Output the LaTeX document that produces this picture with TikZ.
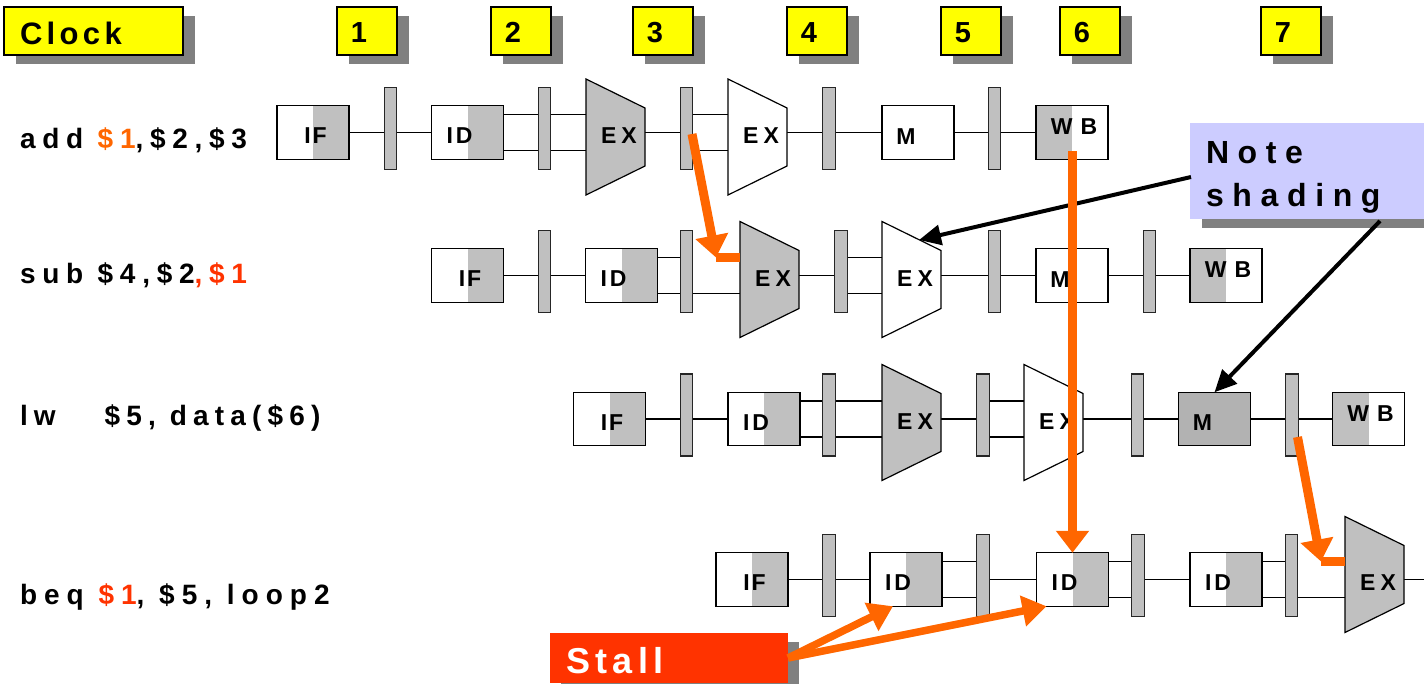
\documentclass[tikz,border=0pt]{standalone}
\usepackage{fontspec}
\setmainfont{Liberation Sans}
\usetikzlibrary{arrows.meta,calc,shadows}

\definecolor{pipegray}{HTML}{C0C0C0}
\definecolor{memgray}{HTML}{B2B2B2}
\definecolor{shadowgray}{HTML}{808080}
\definecolor{clockyellow}{HTML}{FFFF00}
\definecolor{fwdorange}{HTML}{FF6600}
\definecolor{stallred}{HTML}{FF3300}
\definecolor{notelilac}{HTML}{CCCCFF}

% tracked (letter-spaced) text
\newcommand\trk[2]{{\addfontfeature{LetterSpace=#1}#2}}

% ALU-style stage: name, left x, shape centre y, fill colour, row centre y
\newcommand\exunit[5]{%
  \draw[alu, fill=#4] (#2,#3-58) -- (#2+59,#3-29) -- (#2+59,#3+29) -- (#2,#3+58) -- cycle;
  \coordinate (#1-W) at (#2,#3);
  \coordinate (#1-E) at (#2+59,#3);
  \node[stagelbl] (#1) at (#2+33,#5+2.5) {E\hspace{5pt}X};
}

\pgfdeclarelayer{wires}
\pgfsetlayers{wires,main}

\begin{document}
\begin{tikzpicture}[x=1pt,y=-1pt,
  every node/.style={inner sep=0pt, outer sep=0pt},
  hshadow/.style={drop shadow={shadow xshift=12pt, shadow yshift=-9pt, fill=shadowgray, opacity=1}},
  numbox/.style={draw=black, line width=1.3pt, fill=clockyellow, minimum width=60pt, minimum height=48pt, hshadow},
  numlbl/.style={font=\bfseries\fontsize{29}{29}\selectfont, text height=20.8pt, text depth=0pt},
  stage/.style={draw=black, line width=1.2pt, fill=white, minimum width=72pt, minimum height=53.5pt},
  shadeR/.style={path picture={\fill[pipegray] (path picture bounding box.north) rectangle (path picture bounding box.south east);}},
  shadeL/.style={path picture={\fill[pipegray] (path picture bounding box.north west) rectangle (path picture bounding box.south);}},
  stagelbl/.style={font=\bfseries\fontsize{23}{23}\selectfont, text height=16.5pt, text depth=0pt},
  lblIF/.style={label={[stagelbl, xshift=2.5pt, yshift=-3pt]center:I\hspace{2pt}F}},
  lblID/.style={label={[stagelbl, xshift=-8pt, yshift=-3pt]center:I\hspace{3pt}D}},
  lblM/.style={label={[stagelbl, xshift=-12pt, yshift=-3.5pt]center:M}},
  lblWB/.style={label={[stagelbl, xshift=2pt, yshift=6pt]center:W\hspace{8pt}B}},
  bar/.style={draw=black!85, line width=1.2pt, fill=pipegray, minimum width=12.5pt, minimum height=82pt},
  alu/.style={draw=black, line width=1.2pt},
  wire/.style={draw=black, line width=1.2pt},
  instr/.style={font=\bfseries\fontsize{28}{28}\selectfont, anchor=base west},
  fwd/.style={draw=fwdorange, line width=9pt, -{Triangle[length=22pt,width=32pt]}},
  elbow/.style={draw=fwdorange, line width=9pt},
  stallarrow/.style={draw=fwdorange, line width=7.5pt, -{Triangle[length=24pt,width=30pt]}},
  blk/.style={draw=black, line width=4pt, -{Triangle[length=22pt,width=20pt]}}
]
\useasboundingbox (0,0) rectangle (1424,683);

% ---------- clock header ----------
\node[numbox, minimum width=179pt] (clk) at (93.5,31) {};
\node[font=\bfseries\fontsize{31}{31}\selectfont, anchor=base west] (clk-t) at (20,44) {\trk{14}{Clock}};
\foreach \n/\x in {1/337,2/491,3/633,4/787,5/941,6/1060,7/1261}
  \node[numbox, label={[numlbl, xshift=-8pt, yshift=-1.5pt]center:\n}] (cyc\n) at (\x+30,31) {};

% ---------- instruction names ----------
\node[instr] (i1) at (20,148.5) {\trk{24}{add \textcolor{fwdorange}{\$1},\$2,\$3}};
\node[instr] (i2) at (20,283) {\trk{24}{sub \$4,\$2\textcolor{stallred}{,\$1}}};
\node[instr] (i3) at (20,425) {\trk{22}{lw\hspace{49pt}\$5, data(\$6)}};
\node[instr] (i4) at (20,604) {\trk{25}{beq \textcolor{stallred}{\$1}, \$5, loop2}};

% ---------- row 1 : add ----------
\coordinate (y1m) at (0,132.5); \coordinate (y1t) at (0,114.5); \coordinate (y1b) at (0,150.5);
\node[stage, shadeR, lblIF] (r1if) at (313,132.5) {};
\node[bar] (r1b1) at (390.5,128.5) {};
\node[stage, shadeR, lblID] (r1id) at (467.5,132.5) {};
\node[bar] (r1b2) at (544.5,128.5) {};
\exunit{r1exa}{586}{137}{pipegray}{132.5}
\node[bar] (r1b3) at (686.5,128.5) {};
\exunit{r1exb}{728}{137}{white}{132.5}
\node[bar] (r1b4) at (829,128.5) {};
\node[stage, lblM] (r1m) at (918,132.5) {};
\node[bar] (r1b5) at (994.5,128.5) {};
\node[stage, shadeL, lblWB] (r1wb) at (1072,132.5) {};

% ---------- row 2 : sub ----------
\coordinate (y2m) at (0,275.5); \coordinate (y2t) at (0,257.5); \coordinate (y2b) at (0,293.5);
\node[stage, shadeR, lblIF] (r2if) at (467.5,275.5) {};
\node[bar] (r2b1) at (544.5,271.5) {};
\node[stage, shadeR, lblID] (r2id) at (621.5,275.5) {};
\node[bar] (r2b2) at (686.5,271.5) {};
\exunit{r2exa}{740}{279.5}{pipegray}{275.5}
\node[bar] (r2b3) at (841,271.5) {};
\exunit{r2exb}{882}{279.5}{white}{275.5}
\node[bar] (r2b4) at (994.5,271.5) {};
\node[stage, lblM] (r2m) at (1072,275.5) {};
\node[bar] (r2b5) at (1149.5,271.5) {};
\node[stage, shadeL, lblWB] (r2wb) at (1226,275.5) {};

% ---------- row 3 : lw ----------
\coordinate (y3m) at (0,419); \coordinate (y3t) at (0,401); \coordinate (y3b) at (0,437);
\node[stage, shadeR, lblIF] (r3if) at (609.5,419) {};
\node[bar] (r3b1) at (686.5,415) {};
\node[stage, shadeR, lblID] (r3id) at (764,419) {};
\node[bar] (r3b2) at (829,415) {};
\exunit{r3exa}{882}{422.5}{pipegray}{419}
\node[bar] (r3b3) at (983,415) {};
\exunit{r3exb}{1024}{422.5}{white}{419}
\node[bar] (r3b4) at (1137.5,415) {};
\node[stage, fill=memgray, lblM] (r3m) at (1214.5,419) {};
\node[bar] (r3b5) at (1292,415) {};
\node[stage, shadeL, lblWB] (r3wb) at (1368.5,419) {};

% ---------- row 4 : beq ----------
\coordinate (y4m) at (0,579.5); \coordinate (y4t) at (0,561.5); \coordinate (y4b) at (0,597.5);
\node[stage, shadeR, lblIF] (r4if) at (752,579.5) {};
\node[bar] (r4b1) at (829,575.5) {};
\node[stage, shadeR, lblID] (r4id1) at (906,579.5) {};
\node[bar] (r4b2) at (983,575.5) {};
\node[stage, shadeR, lblID] (r4id2) at (1072.5,579.5) {};
\node[bar] (r4b3) at (1138,575.5) {};
\node[stage, shadeR, lblID] (r4id3) at (1226,579.5) {};
\node[bar] (r4b4) at (1291.5,575.5) {};
\exunit{r4exa}{1345}{574.5}{pipegray}{579.5}
\coordinate (r4out) at (1430,579.5);

% ---------- datapath wires (behind the stages) ----------
\begin{pgfonlayer}{wires}
  % row 1
  \draw[wire] (r1if.east |- y1m) -- (r1id.west |- y1m);
  \draw[wire] (r1id.east |- y1t) -- (r1exa-W |- y1t);
  \draw[wire] (r1id.east |- y1b) -- (r1exa-W |- y1b);
  \draw[wire] (r1exa-E |- y1m) -- (r1b3.center |- y1m);
  \draw[wire] (r1b3.center |- y1t) -- (r1exb-W |- y1t);
  \draw[wire] (r1b3.center |- y1b) -- (r1exb-W |- y1b);
  \draw[wire] (r1exb-E |- y1m) -- (r1m.west |- y1m);
  \draw[wire] (r1m.east |- y1m) -- (r1wb.west |- y1m);
  % row 2
  \draw[wire] (r2if.east |- y2m) -- (r2id.west |- y2m);
  \draw[wire] (r2id.east |- y2t) -- (r2b2.center |- y2t);
  \draw[wire] (r2id.east |- y2b) -- (r2exa-W |- y2b);
  \draw[wire] (r2exa-E |- y2m) -- (r2b3.center |- y2m);
  \draw[wire] (r2b3.center |- y2t) -- (r2exb-W |- y2t);
  \draw[wire] (r2b3.center |- y2b) -- (r2exb-W |- y2b);
  \draw[wire] (r2exb-E |- y2m) -- (r2m.west |- y2m);
  \draw[wire] (r2m.east |- y2m) -- (r2wb.west |- y2m);
  % row 3
  \draw[wire] (r3if.east |- y3m) -- (r3id.west |- y3m);
  \draw[wire] (r3id.east |- y3t) -- (r3exa-W |- y3t);
  \draw[wire] (r3id.east |- y3b) -- (r3exa-W |- y3b);
  \draw[wire] (r3exa-E |- y3m) -- (r3b3.center |- y3m);
  \draw[wire] (r3b3.center |- y3t) -- (r3exb-W |- y3t);
  \draw[wire] (r3b3.center |- y3b) -- (r3exb-W |- y3b);
  \draw[wire] (r3exb-E |- y3m) -- (r3m.west |- y3m);
  \draw[wire] (r3m.east |- y3m) -- (r3wb.west |- y3m);
  % row 4
  \draw[wire] (r4if.east |- y4m) -- (r4id1.west |- y4m);
  \draw[wire] (r4id1.east |- y4t) -- (r4b2.center |- y4t);
  \draw[wire] (r4id1.east |- y4b) -- (r4b2.center |- y4b);
  \draw[wire] (r4b2.center |- y4m) -- (r4id2.west |- y4m);
  \draw[wire] (r4id2.east |- y4t) -- (r4b3.center |- y4t);
  \draw[wire] (r4id2.east |- y4b) -- (r4b3.center |- y4b);
  \draw[wire] (r4b3.center |- y4m) -- (r4id3.west |- y4m);
  \draw[wire] (r4id3.east |- y4t) -- (r4b4.center |- y4t);
  \draw[wire] (r4id3.east |- y4b) -- (r4exa-W |- y4b);
  \draw[wire] (r4exa-E |- y4m) -- (r4out);
\end{pgfonlayer}

% ---------- call-outs ----------
\node[fill=notelilac, minimum width=240pt, minimum height=96pt, hshadow] (note) at (1310,171) {};
\node[font=\bfseries\fontsize{32}{32}\selectfont, anchor=base west] (note-t1) at (1206,163) {\trk{27}{Note}};
\node[font=\bfseries\fontsize{32}{32}\selectfont, anchor=base west] (note-t2) at (1206,206) {\trk{27}{shading}};

\node[fill=stallred, minimum width=238pt, minimum height=50pt,
      drop shadow={shadow xshift=11pt, shadow yshift=-9pt, fill=shadowgray, opacity=1}] (stall) at (669,658) {};
\node[font=\bfseries\fontsize{36}{36}\selectfont, text=white, anchor=base west] (stall-t) at (566,673) {\trk{15}{Stall}};

% pointers from the note
\coordinate (noteA) at (1191,177);
\coordinate (noteB) at (1380,221);
\coordinate (r2exb-hit) at (919,240);
\draw[blk] (noteA) -- (r2exb-hit);
\draw[blk] (noteB) -- (r3m.north);

% ---------- forwarding paths ----------
\coordinate (fw1s) at (692,134);
\coordinate (fw1c) at (716,257.5);
\draw[fwd] (fw1s) -- (fw1c);
\draw[elbow] (fw1c) -- (r2exa-W |- y2t);

\coordinate (fw2s) at (1297.5,437);
\coordinate (fw2c) at (1321,561.5);
\draw[fwd] (fw2s) -- (fw2c);
\draw[elbow] (fw2c) -- (r4exa-W |- y4t);

\coordinate (fw3s) at (1072.5,151);
\draw[fwd] (fw3s) -- (r4id2.north);

% ---------- stall pointers ----------
\draw[stallarrow] (stall.east) -- ($(r4id1.south west)+(23,0)$);
\draw[stallarrow] (stall.east) -- ($(r4id2.south west)+(10,0)$);
\end{tikzpicture}
\end{document}
